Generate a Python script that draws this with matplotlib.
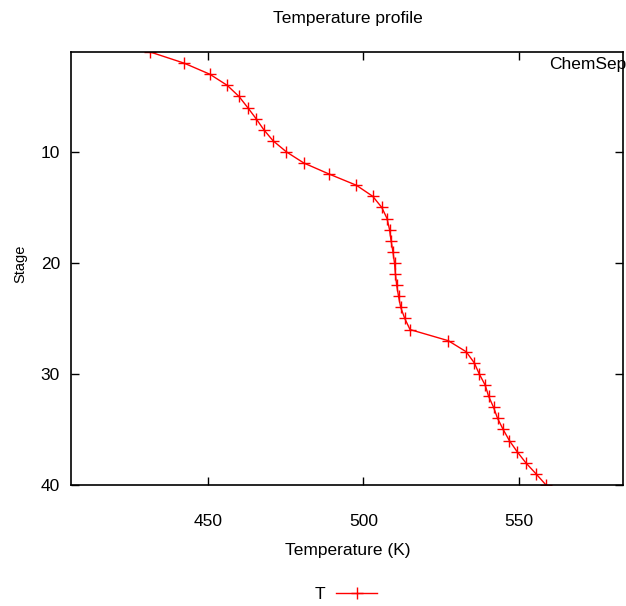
import matplotlib
matplotlib.use("Agg")
import matplotlib.pyplot as plt

# temperature profile, stage 1 (top) to 40 (bottom)
stages = list(range(1, 41))
temps = [431.3, 442.2, 450.5, 456.1, 459.9, 462.7, 465.4, 467.9, 470.9, 475.2,
         480.8, 489.0, 497.7, 503.0, 505.9, 507.6, 508.4, 508.9, 509.5, 510.0,
         510.3, 510.7, 511.3, 512.0, 513.3, 515.0, 527.3, 533.1, 535.7, 537.3,
         539.2, 540.3, 541.9, 543.2, 545.0, 547.0, 549.5, 552.3, 555.6, 558.8]
xticks = [450, 500, 550]
yticks = [10, 20, 30, 40]

plt.rcParams['font.family'] = ['Liberation Sans', 'DejaVu Sans']

fig = plt.figure(figsize=(6.26, 6.06), dpi=100)
ax = fig.add_axes([71/626, 1 - 485/606, 552/626, 433/606])

ax.plot(temps, stages, color='red', lw=1.0, marker='+', ms=9, mew=1.0, label='T')

ax.set_xlim(405.8, 583.6)
ax.set_ylim(40, 1)
ax.set_xticks(xticks)
ax.set_yticks(yticks)
ax.tick_params(direction='in', length=6, width=1, top=True, right=True,
               labelsize=12.5, color='black')
ax.tick_params(axis='x', pad=21)
ax.tick_params(axis='y', pad=8)
for s in ax.spines.values():
    s.set_linewidth(1.2)

fig.text(348/626, 1 - 18/606, 'Temperature profile', ha='center', va='center', fontsize=12.5)
fig.text(348/626, 1 - 551/606, 'Temperature (K)', ha='center', va='center', fontsize=12.5)
fig.text(20/626, 1 - 264/606, 'Stage', ha='center', va='center', rotation=90, fontsize=10.5)
fig.text(549/626, 1 - 65/606, 'ChemSep', ha='left', va='center', fontsize=12.5)

fig.legend(loc='center', bbox_to_anchor=(346/626, 1 - 594/606), frameon=False,
           markerfirst=False, fontsize=12.5, handlelength=2.4, handletextpad=0.6)

fig.savefig('out.png', dpi=100)
